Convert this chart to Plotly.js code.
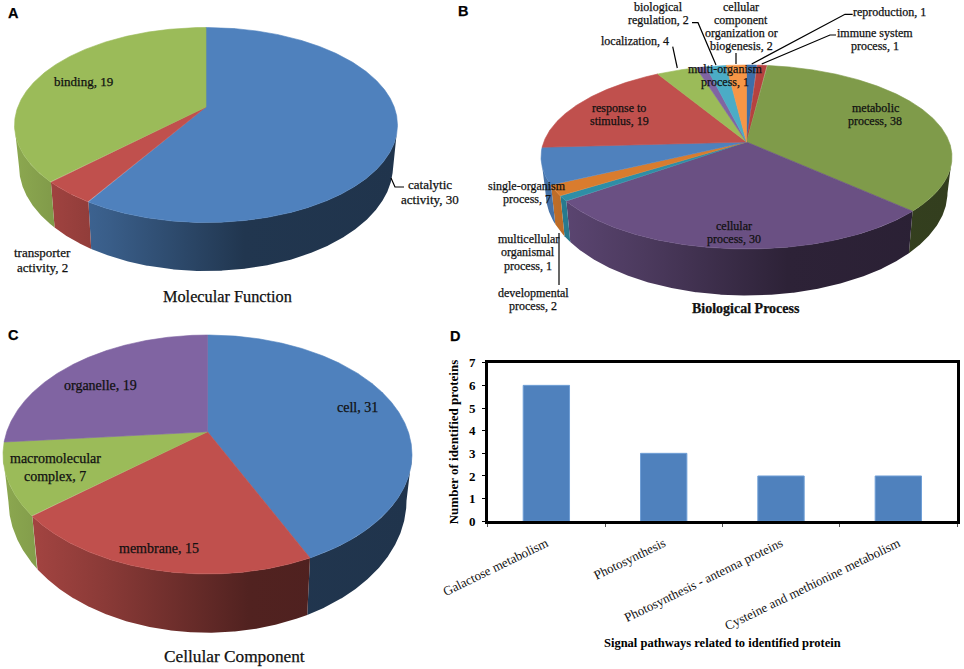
<!DOCTYPE html>
<html><head><meta charset="utf-8">
<script src="https://cdn.plot.ly/plotly-3.0.1.min.js"></script>
<style>html,body{margin:0;padding:0;background:#fff}
.annotation-text,.xtick text{stroke:#111;stroke-width:.25px}</style></head>
<body><div id="chart" style="width:964px;height:669px"></div>
<script>
// ---- data ----
const functionNames = ["catalytic<br>activity", "transporter<br>activity", "binding"];
const functionCounts = [30, 2, 19];
const processNames = ["reproduction", "immune system<br>process", "metabolic<br>process", "cellular<br>process",
  "multicellular<br>organismal<br>process", "developmental<br>process", "single-organism<br>process",
  "response to<br>stimulus", "localization", "multi-organism<br>process", "biological<br>regulation",
  "cellular<br>component<br>organization or<br>biogenesis"];
const processCounts = [1, 1, 38, 30, 1, 2, 7, 19, 4, 1, 2, 2];
const componentNames = ["cell", "membrane", "macromolecular<br>complex", "organelle"];
const componentCounts = [31, 15, 7, 19];
const pathways = ["Galactose metabolism", "Photosynthesis", "Photosynthesis - antenna proteins", "Cysteine and methionine metabolism"];
const pathwayCounts = [6, 3, 2, 2];

// ---- styles ----
const functionColors = ["#4f81bd", "#c0504d", "#9bbb59"];
const processColors = ["#3c6ea8", "#b5423f", "#7f9b4a", "#6a5083", "#2f8ea6", "#d97c2e", "#4f81bd", "#c0504d", "#9bbb59", "#8064a2", "#4bacc6", "#f79646"];
const componentColors = ["#4f81bd", "#c0504d", "#9bbb59", "#8064a2"];
const SERIF = '"Liberation Serif", serif';
const INK = "#111";

// ---- pie geometry: top ellipse, lower ellipse, tilt of the apex ----
const panelA = {cx:206, cy:125, rx:191.5, ry:97.5, bcy:166, brx:187, bry:105, tilt:-0.185};
const panelB = {cx:746.5, cy:157, rx:205.5, ry:92, bcy:192.5, brx:201, bry:103, tilt:-0.163};
const panelC = {cx:207.5, cy:454.5, rx:204.5, ry:119.5, bcy:500.7, brx:199, bry:132, tilt:-0.19};

function project(g, deg) {
  const a = deg * Math.PI / 180, u = Math.sin(a), v = -Math.cos(a), t = g.tilt;
  const d = 1 + t * v;
  return [u * Math.sqrt(1 - t * t) / d, (v + t) / d];
}
function shade(hex, m) {
  const n = parseInt(hex.slice(1), 16);
  return "rgb(" + [(n >> 16) & 255, (n >> 8) & 255, n & 255].map(c => Math.round(c * m)).join(",") + ")";
}
function wallScale(hex) {
  return [[0, shade(hex, .9)], [.25, shade(hex, .72)], [.6, shade(hex, .42)], [1, shade(hex, .4)]];
}
const skip = {hoverinfo: "skip", showlegend: false, xaxis: "x", yaxis: "y", mode: "lines"};

function pieTraces(g, counts, colors, names) {
  const total = counts.reduce((a, b) => a + b, 0);
  const walls = [], tops = [];
  let acc = 0;
  counts.forEach((c, i) => {
    const a0 = acc / total * 360, a1 = (acc + c) / total * 360;
    acc += c;
    const n = Math.max(2, Math.ceil((a1 - a0) * 4));
    const tx = [g.cx], ty = [g.cy + g.ry * g.tilt], front = [];
    for (let k = 0; k <= n; k++) {
      const [X, Y] = project(g, a0 + (a1 - a0) * k / n);
      tx.push(g.cx + g.rx * X); ty.push(g.cy + g.ry * Y);
      if (Y >= 0) front.push([X, Y]);
    }
    tx.push(tx[0]); ty.push(ty[0]);
    tops.push(Object.assign({}, skip, {x: tx, y: ty, fill: "toself", fillcolor: colors[i],
      line: {color: colors[i], width: .6}, name: names[i]}));
    if (front.length > 1) {
      const wx = [], wy = [];
      front.forEach(([X, Y]) => { wx.push(g.cx + g.rx * X); wy.push(g.cy + g.ry * Y); });
      front.slice().reverse().forEach(([X, Y]) => { wx.push(g.cx + g.brx * X); wy.push(g.bcy + g.bry * Y); });
      wx.push(wx[0]); wy.push(wy[0]);
      walls.push(Object.assign({}, skip, {x: wx, y: wy, fill: "toself",
        fillgradient: {type: "horizontal", colorscale: wallScale(colors[i]), start: g.cx - g.rx, stop: g.cx + g.rx},
        line: {width: 0}, name: names[i] + " side"}));
    }
  });
  return walls.concat(tops);
}

const traces = [].concat(
  pieTraces(panelA, functionCounts, functionColors, functionNames),
  pieTraces(panelB, processCounts, processColors, processNames),
  pieTraces(panelC, componentCounts, componentColors, componentNames),
  [{type: "bar", x: pathways, y: pathwayCounts, xaxis: "x2", yaxis: "y2", width: 0.395, showlegend: false,
    marker: {color: "#4f81bd", line: {color: "#6f9fd6", width: 1}}, hoverinfo: "skip"}]
);

// ---- label placement [centre x, centre y, font size, line gap] ----
const functionPlaces = [[430,191.5,13,15], [42,260,13,15], [83,81,13,15]];
const processPlaces = [[889,12,12,13], [875,39,12,13], [875,114,12,13], [734,232,12,13], [528,252,12,13.5],
  [533,299,12,13], [527,192.5,12,13], [619,114,12,13], [635,41,12,13], [725,75.5,12,13], [658,13.5,12,13], [741,26.5,12,13]];
const componentPlaces = [[357,407,14,18], [159,548,14,18], [55,467,14,18], [100,385,14,18]];

const annotations = [];
function note(text, x, y, size, extra) {
  annotations.push(Object.assign({text, x, y, xref: "x", yref: "y", showarrow: false, xanchor: "center", yanchor: "middle",
    font: {family: SERIF, size, color: INK}}, extra || {}));
}
function labels(names, counts, places) {
  names.forEach((name, i) => {
    const lines = (name + ", " + counts[i]).split("<br>");
    const [x, y, size, gap] = places[i];
    lines.forEach((line, k) => note(line, x, y + (k - (lines.length - 1) / 2) * gap, size));
  });
}
labels(functionNames, functionCounts, functionPlaces);
labels(processNames, processCounts, processPlaces);
labels(componentNames, componentCounts, componentPlaces);
note("Molecular Function", 227, 296, 16.3);
note("Biological Process", 746, 308, 14, {text: "<b>Biological Process</b>"});
note("Cellular Component", 234, 656, 17.3);
[["A",13,13],["B",463,11],["C",13,335],["D",455,336]].forEach(p =>
  note("<b>" + p[0] + "</b>", p[1], p[2], 14.5, {font: {family: '"Liberation Sans", sans-serif', size: 14.5, color: "#000"}}));

// ---- leader lines ----
const leaders = [
  "M391,178 L395,187 L404,187",
  "M692,22.7 L698,22.7 L716,65",
  "M736,53 L736,64",
  "M852.7,14.3 L845,14.3 L751.7,64",
  "M836,35 L830,35 L761.7,64",
  "M672.7,46.7 L677.3,68",
  "M559,233 L559,285"
];
const shapes = leaders.map(path => ({type: "path", path, xref: "x", yref: "y", line: {color: "#000", width: 1.2}}));

const layout = {
  width: 964, height: 669, margin: {l: 0, r: 0, t: 0, b: 0}, paper_bgcolor: "#fff", plot_bgcolor: "rgba(0,0,0,0)",
  showlegend: false, annotations, shapes,
  xaxis: {domain: [0, 1], range: [0, 964], visible: false, fixedrange: true},
  yaxis: {domain: [0, 1], range: [669, 0], visible: false, fixedrange: true},
  xaxis2: {anchor: "y2", domain: [487.7 / 964, 957 / 964], type: "category", range: [-0.5, 3.5], tickson: "boundaries",
    ticks: "outside", ticklen: 3, tickwidth: 1, tickcolor: "#555", showgrid: false, showline: true, mirror: true, linewidth: 2.5, linecolor: "#000",
    tickangle: -26, ticklabelstandoff: 7, tickfont: {family: SERIF, size: 13, color: INK}, automargin: false,
    title: {text: "<b>Signal pathways related to identified protein</b>", font: {family: SERIF, size: 12.5, color: "#000"}, standoff: 6}},
  yaxis2: {anchor: "x2", domain: [1 - 521.3 / 669, 1 - 362.7 / 669], range: [0, 7], dtick: 1, ticks: "outside", ticklen: 3,
    tickcolor: "#000", showgrid: false, zeroline: false, showline: true, mirror: true, linewidth: 2.5, linecolor: "#000",
    ticklabelstandoff: 4, tickfont: {family: SERIF, size: 13, color: "#000", weight: "bold"}, automargin: false,
    title: {text: "<b>Number of identified proteins</b>", font: {family: SERIF, size: 13, color: "#000"}, standoff: 8}}
};
Plotly.newPlot("chart", traces, layout, {displayModeBar: false, staticPlot: true});
</script></body></html>
